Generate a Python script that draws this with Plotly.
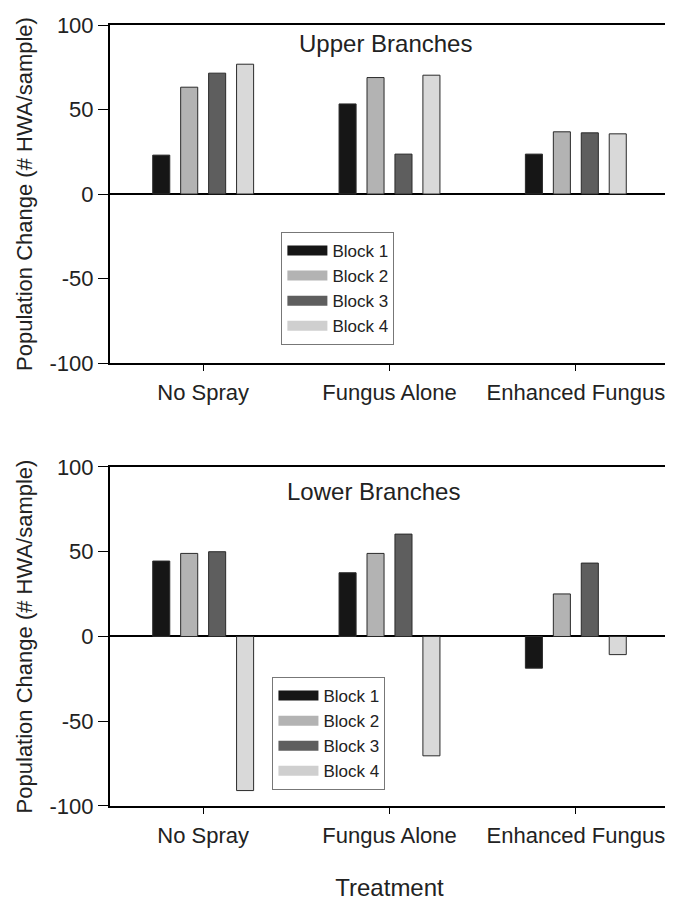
import plotly.graph_objects as go
from plotly.subplots import make_subplots

treatments = ["No Spray", "Fungus Alone", "Enhanced Fungus"]
blocks = ["Block 1", "Block 2", "Block 3", "Block 4"]

upper = {
    "Block 1": [23.0, 53.3, 23.6],
    "Block 2": [63.2, 68.9, 36.8],
    "Block 3": [71.5, 23.6, 36.2],
    "Block 4": [76.8, 70.3, 35.6],
}
lower = {
    "Block 1": [44.5, 37.6, -18.7],
    "Block 2": [49.0, 49.0, 25.1],
    "Block 3": [50.0, 60.4, 43.3],
    "Block 4": [-90.9, -70.4, -10.7],
}
y_ticks = [-100, -50, 0, 50, 100]
y_ticktext = ["-100", "-50", "0", "50", "100"]

colors = {"Block 1": "#161616", "Block 2": "#b3b3b3", "Block 3": "#5e5e5e", "Block 4": "#d9d9d9"}

FONT = "Liberation Sans, Arial, sans-serif"

fig = make_subplots(rows=2, cols=1)

for row, data, leg in [(1, upper, "legend"), (2, lower, "legend2")]:
    for b in blocks:
        fig.add_trace(go.Bar(x=treatments, y=data[b], name=b, legend=leg,
                             legendgroup=f"{leg}-{b}", showlegend=False,
                             marker=dict(color=colors[b], line=dict(color="#2a2a2a", width=1))),
                      row=row, col=1)
    # legend-only entries drawn as wide swatches
    for b in blocks:
        fig.add_trace(go.Scatter(x=[None], y=[None], mode="lines", name=b, legend=leg,
                                 legendgroup=f"{leg}-{b}", showlegend=True,
                                 line=dict(color=colors[b] if b != "Block 4" else "#cfcfcf", width=10)),
                      row=row, col=1)

axis_common_x = dict(range=[-0.5, 2.5], showline=True, mirror=True, linecolor="black",
                     linewidth=2, ticks="outside", ticklen=6, tickcolor="black",
                     showgrid=False, tickfont=dict(size=22, color="#222", family=FONT),
                     ticklabelstandoff=3)
axis_common_y = dict(range=[-100, 100], tickvals=y_ticks, ticktext=y_ticktext, showline=True,
                     mirror=True, linecolor="black", linewidth=2, ticks="outside", ticklen=10,
                     tickcolor="black", showgrid=False, zeroline=True, zerolinecolor="black",
                     zerolinewidth=1.5, tickfont=dict(size=22, color="#222", family=FONT))

fig.update_xaxes(**axis_common_x)
fig.update_yaxes(**axis_common_y)

fig.update_layout(
    width=665, height=895,
    margin=dict(l=102, r=2, t=17, b=97),
    plot_bgcolor="white", paper_bgcolor="white",
    barmode="group", bargap=0.4, bargroupgap=0.39,
    font=dict(family=FONT, color="#222"),
    xaxis=dict(domain=[0, 1]),
    xaxis2=dict(domain=[0, 1], title=dict(text="Treatment", font=dict(size=24), standoff=32)),
    yaxis=dict(domain=[0.5672, 1.0],
               title=dict(text="Population Change (# HWA/sample)", font=dict(size=22), standoff=11)),
    yaxis2=dict(domain=[0.0, 0.4341],
                title=dict(text="Population Change (# HWA/sample)", font=dict(size=22), standoff=11)),
    legend=dict(x=0.3066, y=0.735, xanchor="left", yanchor="top", bgcolor="white",
                bordercolor="#777", borderwidth=1, font=dict(size=17, family=FONT),
                traceorder="normal", itemwidth=40, tracegroupgap=0),
    legend2=dict(x=0.2906, y=0.1652, xanchor="left", yanchor="top", bgcolor="white",
                 bordercolor="#777", borderwidth=1, font=dict(size=17, family=FONT),
                 traceorder="normal", itemwidth=40, tracegroupgap=0),
    annotations=[
        dict(text="Upper Branches", x=0.492, y=0.976, xref="paper", yref="paper",
             xanchor="center", yanchor="middle", showarrow=False, font=dict(size=24)),
        dict(text="Lower Branches", x=0.471, y=0.403, xref="paper", yref="paper",
             xanchor="center", yanchor="middle", showarrow=False, font=dict(size=24)),
    ],
)

fig.write_html("out.html")
